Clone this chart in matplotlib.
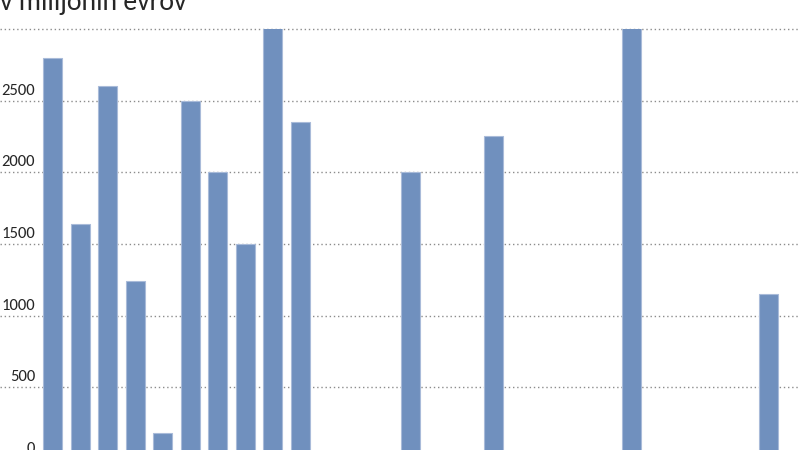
import numpy as np
import matplotlib

matplotlib.use("Agg")

import matplotlib.pyplot as plt

# Data (empty slots have no bar; two bars run past the top)
slots = list(range(27))
values = [2800, 1640, 2600, 1240, 180, 2500, 2000, 1500, 3200, 2350,
          None, None, None, 2000, None, None, 2250, None, None, None,
          None, 3200, None, None, None, None, 1150]
tick_values = [0, 500, 1000, 1500, 2000, 2500]
grid_values = [500, 1000, 1500, 2000, 2500, 3000]
title = "v milijonih evrov"

BAR_COLOR = "#7090be"
EDGE_COLOR = "#a9bbd9"
TEXT_COLOR = "#262626"

plt.rcParams["font.family"] = ["Carlito", "DejaVu Sans"]

heights = np.array([np.nan if v is None else v for v in values], dtype=float)

fig = plt.figure(figsize=(8, 4.5), dpi=100)
ax = fig.add_axes([0, -0.0196, 1, 0.9552])

for g in grid_values:
    ax.axhline(g, color="#8c8c8c", linewidth=1.0, linestyle=(0, (1, 2)),
               zorder=1, clip_on=False)

ax.bar(slots, heights, width=0.69, color=BAR_COLOR, edgecolor=EDGE_COLOR,
       linewidth=0.8, zorder=2)

ax.set_xlim(-1.906, 27.13)
ax.set_ylim(0, 3000)
ax.axis("off")

# tick labels sit just above their gridline, inside the plot's left margin
for t in tick_values:
    ax.text(0.044, t + 42, f"{t}", transform=ax.get_yaxis_transform(),
            ha="right", va="baseline", fontsize=12, color=TEXT_COLOR)

fig.text(0.0, 1 - 10 / 450, title, ha="left", va="baseline",
         fontsize=20, color=TEXT_COLOR)

fig.savefig("out.png", dpi=100)
